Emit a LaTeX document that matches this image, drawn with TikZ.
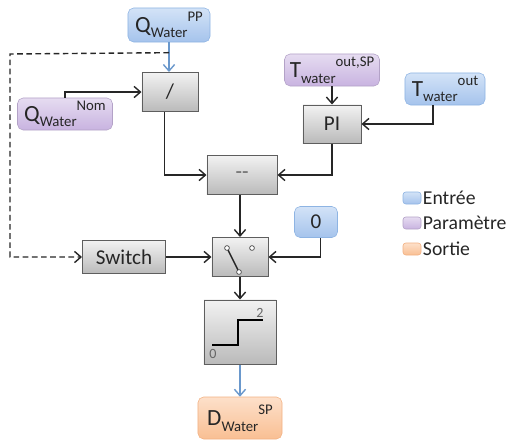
\documentclass[tikz,border=0pt]{standalone}
\usepackage{fontspec}
\setmainfont{Carlito}
\usetikzlibrary{positioning, arrows.meta, calc}

\definecolor{inblue}{HTML}{D3E3F7}
\definecolor{inblueb}{HTML}{A5C3EC}
\definecolor{inblued}{HTML}{8EB4E3}
\definecolor{parpur}{HTML}{E6DCF1}
\definecolor{parpurb}{HTML}{C8B3E0}
\definecolor{parpurd}{HTML}{B3A2C7}
\definecolor{outor}{HTML}{FDE0CA}
\definecolor{outorb}{HTML}{F9BF93}
\definecolor{outord}{HTML}{F2B183}
\definecolor{blkt}{HTML}{F2F2F2}
\definecolor{blkb}{HTML}{BABABA}
\definecolor{blkd}{HTML}{5E5E5E}
\definecolor{flowblue}{HTML}{6A98CC}
\definecolor{txt}{HTML}{262626}

\newcommand{\subsz}{\fontsize{10.5}{12}\selectfont}
\newcommand{\varname}[3]{{\fontsize{16.5}{18}\selectfont #1}\raisebox{-0.55ex}{\subsz #2}\raisebox{1.1ex}{\subsz #3}}

\begin{document}
\begin{tikzpicture}[
    x=0.025cm, y=-0.025cm,
    font=\fontsize{15}{17}\selectfont, text=txt,
    block/.style={draw=blkd, line width=0.7pt, top color=blkt, bottom color=blkb, align=center, inner sep=1pt},
    inbox/.style={draw=inblued, top color=inblue, bottom color=inblueb, rounded corners=4pt, inner sep=1pt},
    parbox/.style={draw=parpurd, top color=parpur, bottom color=parpurb, rounded corners=4pt, inner sep=1pt},
    outbox/.style={draw=outord, top color=outor, bottom color=outorb, rounded corners=4pt, inner sep=1pt},
    arr/.style={-{Straight Barb[length=1.6mm, width=2.8mm]}, line width=1pt, draw=black!85},
    barr/.style={arr, draw=flowblue},
    legsq/.style={rounded corners=2pt, minimum width=0.45cm, minimum height=0.3cm, inner sep=0pt}
]
    \useasboundingbox (0,0) rectangle (511,441);

    % inputs and parameters
    \node[inbox, minimum width=2.05cm, minimum height=0.85cm] (qpp) at (169,25) {\varname{Q}{Water}{PP}};
    \node[parbox, minimum width=2.375cm, minimum height=0.8cm] (qnom) at (65,114) {\varname{Q}{Water}{Nom}};
    \node[parbox, minimum width=2.375cm, minimum height=0.8cm] (tsp) at (332,70) {\varname{T}{water}{out,SP}};
    \node[inbox, minimum width=2.0cm, minimum height=0.8cm] (tout) at (445,89) {\varname{T}{water}{out}};
    \node[inbox, minimum width=1.075cm, minimum height=0.775cm] (zero) at (316,222) {0};

    % blocks
    \node[block, minimum width=1.4cm, minimum height=0.975cm] (div) at (170,92) {/};
    \node[block, minimum width=1.45cm, minimum height=0.95cm] (pi) at (332,124) {PI};
    \node[block, minimum width=1.75cm, minimum height=0.975cm, text=black!60] (minus) at (242,175) {-{}-};
    \node[block, minimum width=2.075cm, minimum height=0.825cm] (sw) at (124,257) {Switch};
    \node[block, minimum width=1.4cm, minimum height=0.975cm] (swbox) at (240,257) {};
    \node[block, minimum width=1.8cm, minimum height=1.6cm] (step) at (240,332) {};

    % output
    \node[outbox, minimum width=2.1cm, minimum height=1.05cm] (dsp) at (240,418) {\varname{D}{Water}{SP}};

    % switch symbol
    \draw[black!85, line width=1pt] (227,248) -- (239,272);
    \foreach \cx/\cy in {227/248, 252/248, 239/272}
        \draw[black!70, fill=white, line width=0.5pt] (\cx,\cy) circle (1.7pt);

    % step symbol
    \draw[black, line width=1.2pt] (212,345) -- (238,345) -- (238,320) -- (263,320);
    \node[text=black!60, font=\fontsize{10}{12}\selectfont, inner sep=0pt] (stlo) at (213,354) {0};
    \node[text=black!60, font=\fontsize{10}{12}\selectfont, inner sep=0pt] (sthi) at (260,313) {2};

    % connectors
    \draw[barr] (qpp.south) -- (qpp.south |- div.north);
    \coordinate (tap) at ($(qpp.south)!0.35!(qpp.south |- div.north)$);
    \coordinate (corner) at (10,54);
    \draw[arr, dash pattern=on 4pt off 2.5pt] (tap) -- (corner) |- (sw.west);
    \draw[arr] (qnom.north) |- (div.west);
    \draw[arr] ([xshift=-4pt]div.south) |- (minus.west);
    \draw[arr] (tsp.south) -- (pi.north);
    \draw[arr] ([xshift=-0.3cm]tout.south) |- (pi.east);
    \draw[arr] (pi.south) |- (minus.east);
    \draw[arr] (swbox.north |- minus.south) -- (swbox.north);
    \draw[arr] (sw.east) -- (swbox.west);
    \draw[arr] ([xshift=3pt]zero.south) |- (swbox.east);
    \draw[arr] (swbox.south) -- (step.north);
    \draw[barr] (step.south) -- (dsp.north);

    % legend
    \node[legsq, draw=inblued, top color=inblue, bottom color=inblueb] (lgin) at (412,198) {};
    \node[legsq, draw=parpurd, top color=parpur, bottom color=parpurb] (lgpar) at (412,223) {};
    \node[legsq, draw=outord, top color=outor, bottom color=outorb] (lgout) at (412,249) {};
    \node[right=1pt of lgin, inner sep=0pt, font=\fontsize{14}{16}\selectfont] {Entrée};
    \node[right=1pt of lgpar, inner sep=0pt, font=\fontsize{14}{16}\selectfont] {Paramètre};
    \node[right=1pt of lgout, inner sep=0pt, font=\fontsize{14}{16}\selectfont] {Sortie};
\end{tikzpicture}
\end{document}
